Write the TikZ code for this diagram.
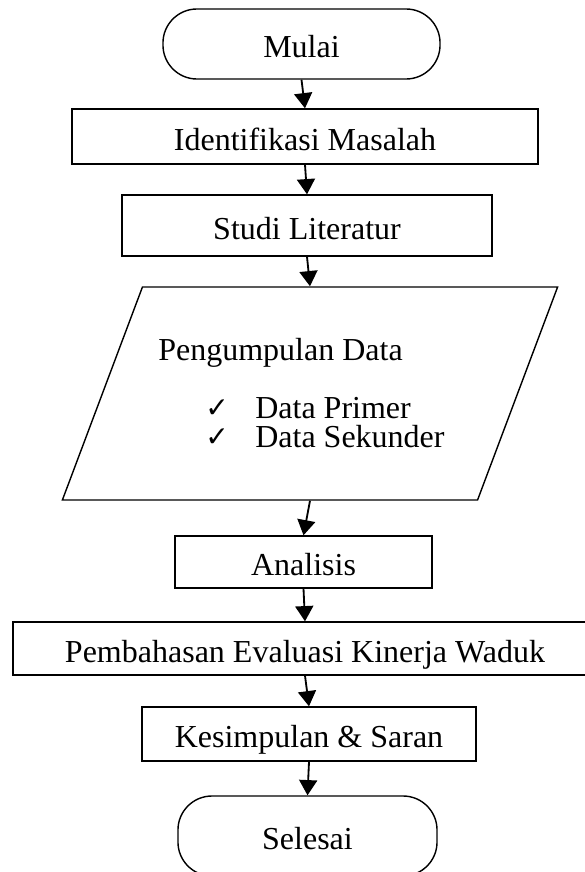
\documentclass[tikz,border=0pt]{standalone}
\usepackage{fontspec}
\setmainfont{Liberation Serif}
\newfontfamily\cekfont{DejaVu Sans}
\usetikzlibrary{shapes.geometric,arrows.meta}
\tikzset{
  kotak/.style={draw, line width=1pt, inner sep=0pt, text height=19.3pt, text depth=0pt},
  term/.style={kotak, rounded corners=0.85cm},
  panah/.style={-{Triangle[width=0.45cm, length=0.38cm]}, line width=1.3pt}}

\begin{document}
\begin{tikzpicture}[x=0.025cm, y=-0.025cm, font=\fontsize{22.76}{27}\selectfont,
  isi/.style={anchor=base west, inner sep=0pt},
  cek/.style={anchor=base west, inner sep=0pt, font=\fontsize{20}{22}\cekfont}]
\useasboundingbox (0,0) rectangle (584,872);
\node[term, minimum width=6.925cm, minimum height=1.75cm] (mulai) at (301.5,44) {Mulai};
\node[kotak, minimum width=11.65cm, minimum height=1.375cm] (ident) at (305,136.5) {Identifikasi Masalah};
\node[kotak, minimum width=9.25cm, minimum height=1.525cm] (studi) at (307,225.5) {Studi Literatur};
\node[draw, line width=1pt, trapezium, trapezium left angle=69.4, trapezium right angle=110.6,
  text height=0pt, text depth=0pt, inner xsep=4.1875cm, inner ysep=2.6625cm] (kumpul) at (310,393.5) {};
\node[isi] (judul) at (158,360) {Pengumpulan Data};
\node[cek] (cek1) at (205,417) {✓};
\node[isi] (primer) at (255,418) {Data Primer};
\node[cek] (cek2) at (205,446) {✓};
\node[isi] (sekunder) at (255,447) {Data Sekunder};
\node[kotak, minimum width=6.425cm, minimum height=1.3cm] (analisis) at (303.5,562) {Analisis};
\node[kotak, minimum width=14.6cm, minimum height=1.325cm] (bahas) at (305,648.5) {Pembahasan Evaluasi Kinerja Waduk};
\node[kotak, minimum width=8.35cm, minimum height=1.35cm] (kesim) at (309,734) {Kesimpulan \& Saran};
\node[term, minimum width=6.475cm, minimum height=2cm] (selesai) at (307.5,836) {Selesai};
\draw[panah] (mulai.south) -- (ident.north);
\draw[panah] (ident.south) -- (studi.north);
\draw[panah] (studi.south) -- (kumpul.north);
\draw[panah] (kumpul.south) -- (analisis.north);
\draw[panah] (analisis.south) -- (bahas.north);
\draw[panah] (bahas.south) -- (kesim.north);
\draw[panah] (kesim.south) -- (selesai.north);
\end{tikzpicture}
\end{document}
